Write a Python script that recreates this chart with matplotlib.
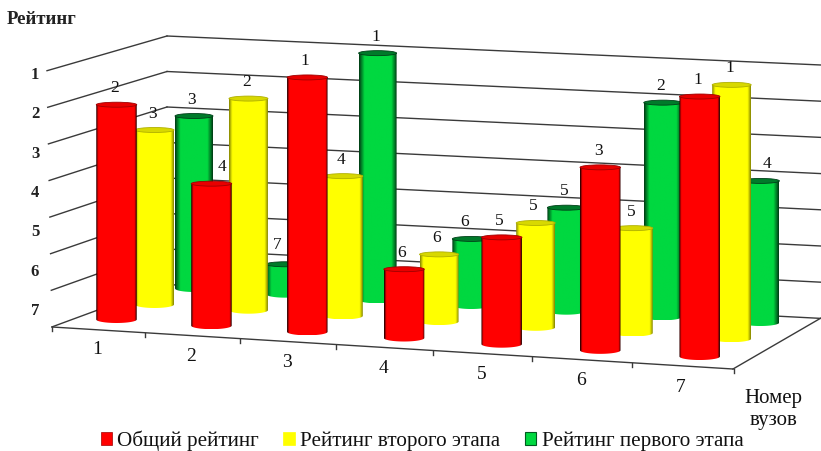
import numpy as np
import matplotlib
matplotlib.use("Agg")
import matplotlib.pyplot as plt
from matplotlib.patches import Ellipse, Patch, PathPatch
from matplotlib.path import Path
from matplotlib.colors import LinearSegmentedColormap

plt.rcParams['font.family'] = ['Liberation Serif', 'DejaVu Serif']

# ----------------------------
# data
# ----------------------------
universities = ['1', '2', '3', '4', '5', '6', '7']
rank_labels = ['1', '2', '3', '4', '5', '6', '7']
series_names = ['Общий рейтинг', 'Рейтинг второго этапа', 'Рейтинг первого этапа']
rank_total = [2, 4, 1, 6, 5, 3, 1]
rank_second = [3, 2, 4, 6, 5, 5, 1]
rank_first = [3, 7, 1, 6, 5, 2, 4]

FLOOR_RANK = 8   # the axis runs from 8 at the floor up to 1

# ----------------------------
# projection of the 3D box onto the picture (pixels)
# ----------------------------
# row: x0, dx, ddx, y0, dy, unit, dunit, width
ROW_FRONT = (116.5, 94.5, 0.45, 323, 6.17, 36.8, 0.2, 40.5)
ROW_MID = (154.5, 93.5, 0.45, 308, 5.7, 36.1, 0.17, 39)
ROW_BACK = (194, 90.5, 0.65, 292, 5.67, 35.7, 0.2, 38)

def bar_geom(row, i, rank):
    x0, dx, ddx, y0, dy, unit, dunit, w = row
    xc = x0 + dx * i + ddx * i * i
    bottom = y0 + dy * i
    top = bottom - (FLOOR_RANK - rank) * (unit + dunit * i)
    return xc, bottom, top, w

def cmap_of(edge, mid, inner=0.08):
    return LinearSegmentedColormap.from_list('c', [(0, edge), (inner, mid), (1 - inner, mid), (1, edge)])

fig = plt.figure(figsize=(8.21, 4.51), dpi=100)
ax = fig.add_axes([0, 0, 1, 1])

# ----------------------------
# walls and floor
# ----------------------------
n_lines = 8
wall = dict(color='#3a3a3a', lw=1.0, zorder=1)
for k in range(n_lines):
    y_left = 70.7 + 36.6 * k
    y_back = 36 + 35.5 * k
    y_right = 65 + 36.2 * k
    x_left = 47 + 5 * k / 7
    ax.plot([x_left, 167], [y_left, y_back], **wall)
    ax.plot([167, 821], [y_back, y_right], **wall)
ax.plot([52, 733], [327, 369], **wall)
ax.plot([733, 821], [369, 318], **wall)
for i in range(len(universities) + 1):
    xt = 52 + 92.5 * i + 0.7 * i * i
    yt = 327 + 6 * i
    ax.plot([xt, xt], [yt, yt + 4], **wall)

# ----------------------------
# cylinders
# ----------------------------
gradient = np.linspace(0, 1, 64).reshape(1, -1)

def draw_cylinder(row, i, rank, cmap, top_color, edge, z):
    xc, bottom, top, w = bar_geom(row, i, rank)
    a = w / 2
    b_low = 3.5
    b_top = 2.5
    t = np.linspace(np.pi, 0, 30)
    ybase = bottom - b_low
    ytop = top + b_top
    xs = np.r_[xc - a, xc + a * np.cos(t), xc + a, xc - a]
    ys = np.r_[ytop, ybase + b_low * np.sin(t), ytop, ytop]
    body = PathPatch(Path(np.c_[xs, ys]), fc='none', ec='none', zorder=z)
    ax.add_patch(body)
    im = ax.imshow(gradient, cmap=cmap, extent=[xc - a, xc + a, bottom, top],
                   aspect='auto', zorder=z, interpolation='bilinear')
    im.set_clip_path(body)
    ax.add_patch(Ellipse((xc, ytop), w, 2 * b_top, fc=top_color, ec=edge, lw=0.6, zorder=z + 0.1))

rows = [
    (ROW_BACK, rank_first, cmap_of('#003d15', '#00d840', 0.14), '#007a2a', '#004018', 3),
    (ROW_MID, rank_second, cmap_of('#8a8a00', '#ffff00'), '#d8d800', '#b0b000', 4),
    (ROW_FRONT, rank_total, cmap_of('#200000', '#ff0000', 0.05), '#e80000', '#a00000', 5),
]
for row, ranks, cmap, top_color, edge, z in rows:
    for i, r in enumerate(ranks):
        draw_cylinder(row, i, r, cmap, top_color, edge, z)

# labels above the columns, some were shifted by hand in the original
label_shift = {('b', 1): (-8, -3), ('f', 1): (10.5, 0), ('b', 3): (-7, 0), ('b', 6): (7, 0)}
for key, (row, ranks, *_rest) in zip('bmf', rows):
    for i, r in enumerate(ranks):
        xc, bottom, top, w = bar_geom(row, i, r)
        sx, sy = label_shift.get((key, i), (-2, 0))
        ax.text(xc + sx, top - 14 + sy, str(r), ha='center', va='center', fontsize=12.5,
                color='#111111', zorder=6)

# ----------------------------
# axis text
# ----------------------------
for k, lab in enumerate(rank_labels):
    ax.text(35, 75 + 39.3 * k, lab, ha='center', va='center', fontsize=12,
            fontweight='bold', color='#222222')
for i, lab in enumerate(universities):
    ax.text(97 + 94 * i + 0.55 * i * i, 350 + 6.17 * i, lab, ha='center', va='center',
            fontsize=14, color='#111111')

ax.text(7, 19, 'Рейтинг', ha='left', va='center', fontsize=13.5, fontweight='bold', color='#222222')
ax.text(773, 398, 'Номер', ha='center', va='center', fontsize=15, color='#111111')
ax.text(774, 420, 'вузов', ha='center', va='center', fontsize=15, color='#111111')

handles = [Patch(fc='#ff0000', ec='#a00000', lw=0.5), Patch(fc='#ffff00', ec='#ffff00', lw=0.5),
           Patch(fc='#00d840', ec='#005a20', lw=0.8)]
leg = ax.legend(handles, series_names, ncol=3, loc='center', bbox_to_anchor=(422 / 821, 1 - 441 / 451),
                frameon=False, fontsize=15.2, handlelength=0.55, handleheight=0.55,
                handletextpad=0.25, columnspacing=1.15, borderpad=0)
for t in leg.get_texts():
    t.set_color('#111111')

ax.set_xlim(0, 821)
ax.set_ylim(451, 0)
ax.axis('off')
fig.savefig('out.png', dpi=100)
